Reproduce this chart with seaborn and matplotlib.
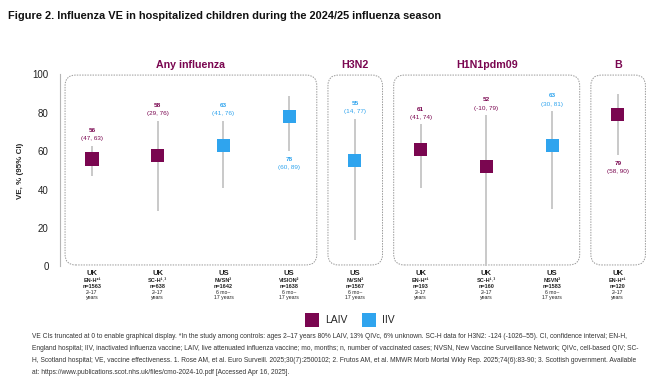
import matplotlib
matplotlib.use("Agg")
import matplotlib.pyplot as plt
from matplotlib import font_manager
from matplotlib.patches import FancyBboxPatch
from matplotlib.transforms import blended_transform_factory
import seaborn as sns
import pandas as pd
import numpy as np

# data
countries = ["UK", "UK", "US", "US", "US", "UK", "UK", "US", "UK"]
sites = ["EN-H*¹", "SC-H¹˒³", "NVSN²", "VISION²", "NVSN²", "EN-H*¹", "SC-H¹˒³", "NSVN²", "EN-H*¹"]
n_cases = [1563, 638, 1642, 1638, 1567, 193, 160, 1583, 120]
ages = ["2–17\nyears", "2–17\nyears", "6 mo–\n17 years", "6 mo–\n17 years", "6 mo–\n17 years",
        "2–17\nyears", "2–17\nyears", "6 mo–\n17 years", "2–17\nyears"]
vaccines = ["LAIV", "LAIV", "IIV", "IIV", "IIV", "LAIV", "LAIV", "IIV", "LAIV"]
ve = [56, 58, 63, 78, 55, 61, 52, 63, 79]
ci_low = [47, 29, 41, 60, 14, 41, -10, 30, 58]
ci_high = [63, 76, 76, 89, 77, 74, 79, 81, 90]
label_below = [False, False, False, True, False, False, False, False, True]

panels = ["Any influenza", "H3N2", "H1N1pdm09", "B"]
panel_spans = [(0, 3), (4, 4), (5, 7), (8, 8)]

LAIV_C = "#7a0650"
IIV_C = "#2fa4ee"
palette = {"LAIV": LAIV_C, "IIV": IIV_C}

df = pd.DataFrame({"pos": np.arange(len(ve)), "VE": ve, "lo": ci_low, "hi": ci_high,
                   "Vaccine": vaccines})

sns.set_style("white")
plt.rcParams["font.family"] = ["Liberation Sans", "DejaVu Sans"]

fig = plt.figure(figsize=(6.5, 3.84), dpi=100)
ax = fig.add_axes([0.092, 0.306, 0.905, 0.5])

# confidence intervals (truncated at 0)
ax.vlines(df["pos"], df["lo"].clip(lower=0), df["hi"], color="#c9c9c9", lw=1.4, zorder=2)

sns.scatterplot(data=df, x="pos", y="VE", hue="Vaccine", hue_order=["LAIV", "IIV"],
                palette=palette, marker="s", s=90, linewidth=0, ax=ax, zorder=3)

for i, row in df.iterrows():
    c = palette[row["Vaccine"]]
    if label_below[i]:
        ax.annotate(f"{row['VE']}", (row["pos"], row["lo"]), xytext=(0, -4),
                    textcoords="offset points", ha="center", va="top",
                    fontsize=4.6, color=c, fontweight="bold")
        ax.annotate(f"({row['lo']}, {row['hi']})", (row["pos"], row["lo"]), xytext=(0, -10),
                    textcoords="offset points", ha="center", va="top",
                    fontsize=4.6, color=c)
    else:
        ax.annotate(f"({row['lo']}, {row['hi']})", (row["pos"], row["hi"]), xytext=(0, 3),
                    textcoords="offset points", ha="center", va="bottom",
                    fontsize=4.6, color=c)
        ax.annotate(f"{row['VE']}", (row["pos"], row["hi"]), xytext=(0, 9),
                    textcoords="offset points", ha="center", va="bottom",
                    fontsize=4.6, color=c, fontweight="bold")

ax.set_xlim(-0.49, 8.46)
ax.set_ylim(0, 100)
ax.set_yticks([0, 20, 40, 60, 80, 100])
ax.tick_params(axis="y", labelsize=7, length=2, color="#bbbbbb", pad=6, labelcolor="#222222")
ax.set_xticks([])
ax.set_xlabel("")
ax.set_ylabel("VE, % (95% CI)", fontsize=5.8, fontweight="bold", labelpad=6)
for s in ["top", "right", "bottom"]:
    ax.spines[s].set_visible(False)
ax.spines["left"].set_color("#b5b5b5")
ax.spines["left"].set_linestyle((0, (1, 1)))
ax.spines["left"].set_linewidth(0.8)

# dashed rounded panels and headers
xunit = ax.bbox.width / (8.46 + 0.49)
yunit = ax.bbox.height / 100
for name, (a, b) in zip(panels, panel_spans):
    x0, x1 = a - 0.41, b + 0.42
    box = FancyBboxPatch((x0, 0.8), x1 - x0, 98.9, boxstyle="round,pad=0,rounding_size=0.16",
                         mutation_aspect=xunit / yunit, fill=False, ec="#9a9a9a",
                         lw=0.7, ls=(0, (1.5, 1.2)), zorder=1)
    ax.add_patch(box)
    ax.text((x0 + x1) / 2, 102.5, name, ha="center", va="bottom", fontsize=7.7,
            fontweight="bold", color=LAIV_C)

# category labels under each point
trans = blended_transform_factory(ax.transData, ax.transAxes)
for i in range(len(ve)):
    age_a, age_b = ages[i].split("\n")
    ax.text(i, -0.037, countries[i], transform=trans, ha="center", va="center",
            fontsize=5.5, fontweight="bold", color="#222222")
    ax.text(i, -0.073, sites[i], transform=trans, ha="center", va="center",
            fontsize=4.0, fontweight="bold", color="#222222")
    ax.text(i, -0.103, f"n={n_cases[i]}", transform=trans, ha="center", va="center",
            fontsize=4.0, fontweight="bold", color="#222222")
    ax.text(i, -0.133, age_a, transform=trans, ha="center", va="center",
            fontsize=3.7, color="#222222")
    ax.text(i, -0.163, age_b, transform=trans, ha="center", va="center",
            fontsize=3.7, color="#222222")

sns.move_legend(ax, loc="center", bbox_to_anchor=(0.49, -0.28), ncol=2, frameon=False,
                title=None, fontsize=7.5, markerscale=1.0, handletextpad=0.3, columnspacing=1.0)

# narrow bold title if available, else a smaller regular bold
try:
    font_manager.findfont(font_manager.FontProperties(family="Liberation Sans Narrow", weight="bold"),
                          fallback_to_default=False)
    title_family, title_size = ["Liberation Sans Narrow", "Liberation Sans"], 9.4
except ValueError:
    title_family, title_size = ["Liberation Sans", "DejaVu Sans"], 7.9

fig.text(0.012, 0.972, "Figure 2. Influenza VE in hospitalized children during the 2024/25 influenza season",
         fontsize=title_size, fontweight="bold", family=title_family,
         ha="left", va="top", color="#111111")

foot = ("VE CIs truncated at 0 to enable graphical display. *In the study among controls: ages 2–17 years 80% LAIV, 13% QIVc, 6% unknown. SC-H data for H3N2: -124 (-1026–55). CI, confidence interval; EN-H,\n"
        "England hospital; IIV, inactivated influenza vaccine; LAIV, live attenuated influenza vaccine; mo, months; n, number of vaccinated cases; NVSN, New Vaccine Surveillance Network; QIVc, cell-based QIV; SC-\n"
        "H, Scotland hospital; VE, vaccine effectiveness. 1. Rose AM, et al. Euro Surveill. 2025;30(7):2500102; 2. Frutos AM, et al. MMWR Morb Mortal Wkly Rep. 2025;74(6):83-90; 3. Scottish government. Available\n"
        "at: https://www.publications.scot.nhs.uk/files/cmo-2024-10.pdf [Accessed Apr 16, 2025].")
fig.text(0.049, 0.077, foot, fontsize=4.82, color="#333333", ha="left", va="center", linespacing=2.0)

fig.savefig("out.png", dpi=100)
